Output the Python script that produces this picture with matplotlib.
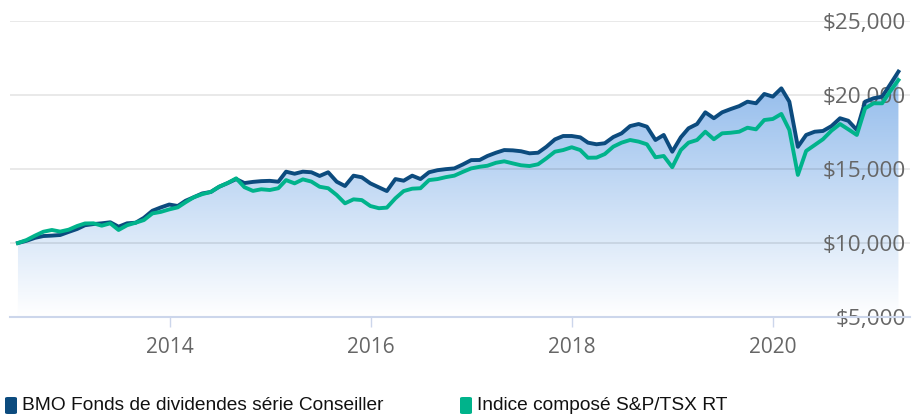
import matplotlib
matplotlib.use('Agg')
import matplotlib.pyplot as plt
import matplotlib.dates as mdates
from matplotlib.colors import LinearSegmentedColormap
from matplotlib.patches import FancyBboxPatch
import numpy as np
import pandas as pd

# Growth of $10,000, month-end values
months = pd.date_range('2012-06-30', '2021-03-31', freq='ME')

bmo = [10000, 10150, 10350, 10470, 10500, 10540, 10750, 10950, 11200, 11280,
       11330, 11400, 11100, 11330, 11370, 11700, 12180, 12400, 12600, 12500,
       12850, 13100, 13350, 13450, 13800, 14050, 14320, 14050, 14130, 14180,
       14200, 14140, 14820, 14680, 14820, 14780, 14530, 14780, 14140, 13850,
       14550, 14440, 14030, 13760, 13510, 14320, 14210, 14550, 14320, 14780,
       14920, 14990, 15040, 15300, 15600, 15610, 15880, 16100, 16280, 16260,
       16200, 16060, 16100, 16500, 17000, 17230, 17230, 17140, 16780, 16670,
       16740, 17160, 17410, 17900, 18040, 17860, 16960, 17300, 16170, 17140,
       17750, 18040, 18830, 18430, 18830, 19050, 19250, 19550, 19440, 20070,
       19890, 20450, 19550, 16500, 17300, 17520, 17570, 17900, 18430, 18260,
       17640, 19550, 19780, 19890, 20680, 21580]

tsx = [10000, 10200, 10500, 10760, 10880, 10770, 10900, 11150, 11320, 11330,
       11170, 11330, 10880, 11200, 11370, 11550, 12000, 12100, 12270, 12410,
       12750, 13100, 13300, 13450, 13800, 14050, 14370, 13770, 13520, 13630,
       13580, 13700, 14250, 14030, 14300, 14150, 13800, 13700, 13240, 12680,
       12950, 12900, 12500, 12350, 12390, 13020, 13510, 13670, 13700, 14250,
       14320, 14450, 14550, 14800, 15040, 15150, 15220, 15420, 15520, 15380,
       15250, 15200, 15320, 15720, 16170, 16280, 16470, 16280, 15760, 15770,
       16010, 16510, 16780, 16960, 16850, 16670, 15790, 15880, 15120, 16280,
       16780, 16960, 17520, 17010, 17410, 17450, 17520, 17790, 17680, 18310,
       18380, 18720, 17640, 14600, 16220, 16620, 17010, 17590, 18040, 17680,
       17300, 19100, 19440, 19440, 20220, 21010]

series_names = ['BMO Fonds de dividendes série Conseiller', 'Indice composé S&P/TSX RT']
series_colors = ['#0c4b7e', '#00b38b']
y_ticks = [5000, 10000, 15000, 20000, 25000]
x_tick_years = [2014, 2016, 2018, 2020]

W, H = 923, 415
fig = plt.figure(figsize=(W / 100, H / 100), dpi=100)
fig.patch.set_facecolor('white')
ax = fig.add_axes([10 / W, 1 - 317 / H, 900 / W, 296 / H])

x = mdates.date2num(months)
x0 = mdates.date2num(pd.Timestamp('2012-06-01'))
x1 = mdates.date2num(pd.Timestamp('2021-05-12'))

# blue gradient under the fund line
area = ax.fill_between(x, bmo, y_ticks[0], facecolor='none', edgecolor='none')
grad = LinearSegmentedColormap.from_list('area', ['#ffffff', '#78abe7'])
img = ax.imshow(np.linspace(0, 1, 256).reshape(-1, 1), cmap=grad,
                extent=[x0, x1, y_ticks[0], y_ticks[-1]], origin='lower',
                aspect='auto', zorder=1, interpolation='bilinear')
img.set_clip_path(area.get_paths()[0], transform=ax.transData)

ax.plot(x, bmo, color=series_colors[0], lw=2.8, zorder=3, solid_joinstyle='round')
ax.plot(x, tsx, color=series_colors[1], lw=2.8, zorder=4, solid_joinstyle='round')

ax.set_xlim(x0, x1)
ax.set_ylim(y_ticks[0], y_ticks[-1])

# axes styling
for side in ['top', 'left', 'right']:
    ax.spines[side].set_visible(False)
ax.spines['bottom'].set_color('#ccd6eb')
ax.spines['bottom'].set_linewidth(1.5)
ax.set_axisbelow('line')
ax.grid(axis='y', color='#000000', alpha=0.1, lw=1.2)

ax.set_xticks([mdates.date2num(pd.Timestamp(f'{y}-01-01')) for y in x_tick_years])
ax.set_xticklabels([str(y) for y in x_tick_years])
ax.tick_params(axis='x', length=7.5, width=1, color='#ccd6eb', pad=7,
               labelsize=15, labelcolor='#666666')
for lbl in ax.get_xticklabels():
    lbl.set_fontfamily('Open Sans')

ax.set_yticks(y_ticks)
ax.set_yticklabels([f'${v:,}' for v in y_ticks])
ax.yaxis.tick_right()
ax.tick_params(axis='y', length=0, pad=-3, labelsize=16.2, labelcolor='#666666')
for t in ax.yaxis.get_major_ticks():
    t.label2.set_horizontalalignment('right')
    t.label2.set_fontfamily('Open Sans')
    t.label2.set_zorder(5)

# legend along the bottom edge
def px(xp, yp):
    return xp / W, 1 - yp / H

legend_x = [5, 460]
for lx, name, col in zip(legend_x, series_names, series_colors):
    sx, sy = px(lx, 414)
    fig.patches.append(FancyBboxPatch((sx, sy), 12 / W, 17 / H,
                                      boxstyle='round,pad=0,rounding_size=0.003',
                                      facecolor=col, edgecolor='none',
                                      transform=fig.transFigure))
    tx, ty = px(lx + 17, 410)
    fig.text(tx, ty, name, fontsize=13.8, family='Liberation Sans',
             color='#111111', va='baseline', ha='left')

fig.savefig('out.png', dpi=100, facecolor='white')
